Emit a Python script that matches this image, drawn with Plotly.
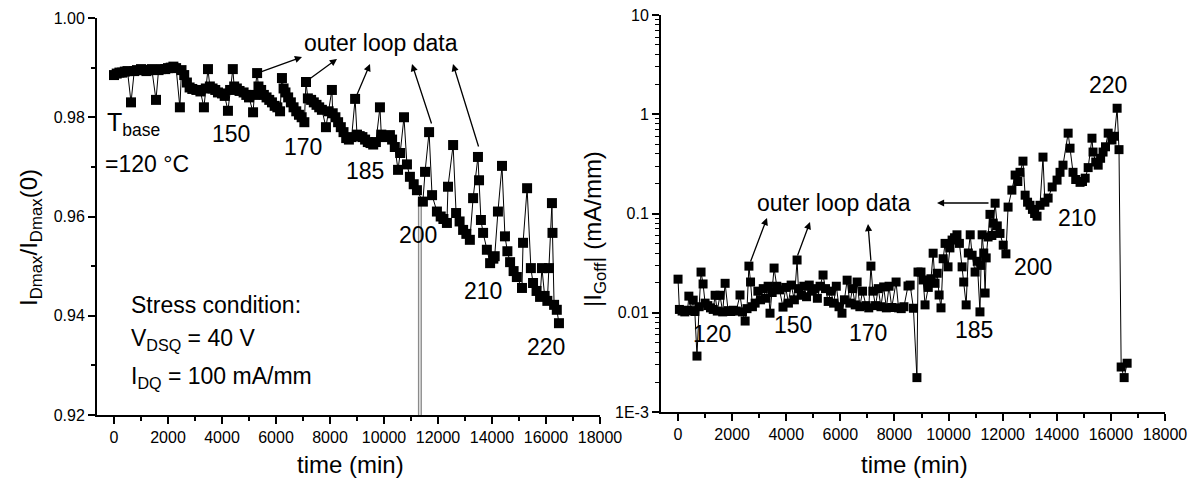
import plotly.graph_objects as go

# ---------------- data: left panel (I_Dmax / I_Dmax(0)) ----------------
left_time = [0, 100, 200, 300, 400, 500, 630, 750, 850, 1000,
             1100, 1200, 1300, 1400, 1555, 1650, 1750, 1900, 2000, 2100,
             2200, 2300, 2440, 2500, 2600, 2700, 2800, 2900, 3050, 3200,
             3330, 3400, 3480, 3550, 3650, 3750, 3850, 4000, 4100, 4220,
             4300, 4400, 4450, 4550, 4650, 4800, 4900, 5000, 5150, 5200,
             5300, 5350, 5450, 5550, 5650, 5750, 5850, 5950, 6050, 6150,
             6220, 6280, 6350, 6450, 6550, 6650, 6750, 6850, 6950, 7050,
             7110, 7180, 7300, 7400, 7500, 7600, 7700, 7850, 7950, 8070,
             8100, 8200, 8300, 8400, 8500, 8600, 8700, 8800, 8930, 9000,
             9100, 9200, 9300, 9400, 9500, 9600, 9700, 9850, 9900, 10000,
             10100, 10220, 10300, 10400, 10520, 10600, 10740, 10850, 10960, 11100,
             11220, 11440, 11520, 11670, 11780, 11960, 12100, 12200, 12330, 12370,
             12560, 12670, 12800, 12930, 13050, 13180, 13300, 13480, 13520, 13590,
             13670, 13810, 13930, 14050, 14100, 14220, 14370, 14480, 14570, 14670,
             14800, 14920, 15110, 15150, 15300, 15440, 15520, 15650, 15780, 15850,
             15950, 16050, 16110, 16220, 16240, 16300, 16400, 16480]
left_ratio = [0.9885, 0.9888, 0.9890, 0.9890, 0.9892, 0.9893, 0.9830, 0.9893, 0.9895, 0.9897,
              0.9895, 0.9893, 0.9895, 0.9897, 0.9835, 0.9895, 0.9897, 0.9897, 0.9899, 0.9900,
              0.9902, 0.9899, 0.9820, 0.9895, 0.9885, 0.9870, 0.9860, 0.9857, 0.9855, 0.9852,
              0.9820, 0.9858, 0.9897, 0.9862, 0.9858, 0.9855, 0.9850, 0.9848, 0.9843, 0.9813,
              0.9855, 0.9897, 0.9862, 0.9858, 0.9853, 0.9850, 0.9845, 0.9840, 0.9810, 0.9845,
              0.9889, 0.9862, 0.9855, 0.9845, 0.9840, 0.9835, 0.9830, 0.9823, 0.9820, 0.9812,
              0.9879, 0.9858, 0.9850, 0.9840, 0.9830, 0.9820, 0.9812, 0.9805, 0.9800, 0.9790,
              0.9871, 0.9838, 0.9835, 0.9830, 0.9825, 0.9820, 0.9815, 0.9780, 0.9812, 0.9855,
              0.9808, 0.9800, 0.9790, 0.9780, 0.9770, 0.9758, 0.9755, 0.9760, 0.9837, 0.9765,
              0.9762, 0.9760, 0.9755, 0.9750, 0.9748, 0.9745, 0.9750, 0.9820, 0.9765, 0.9760,
              0.9762, 0.9764, 0.9755, 0.9740, 0.9694, 0.9728, 0.9800, 0.9705, 0.9680, 0.9665,
              0.9653, 0.9630, 0.9690, 0.9770, 0.9643, 0.9610, 0.9600, 0.9595, 0.9587, 0.9660,
              0.9744, 0.9607, 0.9590, 0.9573, 0.9565, 0.9553, 0.9637, 0.9720, 0.9673, 0.9593,
              0.9567, 0.9533, 0.9506, 0.9515, 0.9520, 0.9610, 0.9702, 0.9560, 0.9530, 0.9508,
              0.9490, 0.9478, 0.9456, 0.9547, 0.9657, 0.9496, 0.9466, 0.9450, 0.9438, 0.9496,
              0.9440, 0.9430, 0.9496, 0.9627, 0.9567, 0.9422, 0.9412, 0.9385]

# single spike at ~11330 min dropping off the bottom of the axis
drop_time = [11330, 11330]
drop_ratio = [0.9635, 0.90]

# ---------------- data: right panel (|I_Goff|, mA/mm) ----------------
right_time = [0, 50, 150, 250, 350, 400, 480, 560, 620, 700,
              780, 850, 925, 1000, 1100, 1200, 1300, 1370, 1450, 1550,
              1650, 1740, 1850, 1950, 2050, 2150, 2290, 2380, 2480, 2550,
              2620, 2680, 2750, 2850, 2950, 3050, 3150, 3250, 3330, 3400,
              3480, 3550, 3650, 3750, 3880, 3980, 4080, 4180, 4300, 4400,
              4450, 4550, 4650, 4750, 4850, 4950, 5050, 5150, 5250, 5360,
              5450, 5550, 5650, 5750, 5850, 5950, 6060, 6150, 6250, 6350,
              6450, 6550, 6620, 6720, 6820, 6950, 7050, 7130, 7200, 7300,
              7400, 7500, 7600, 7700, 7800, 7900, 8060, 8150, 8250, 8350,
              8500, 8580, 8700, 8830, 8870, 8980, 9060, 9130, 9250, 9350,
              9430, 9500, 9580, 9650, 9720, 9800, 9870, 9980, 10050, 10130,
              10220, 10310, 10400, 10500, 10560, 10650, 10730, 10800, 10870, 10980,
              11060, 11160, 11200, 11240, 11300, 11350, 11390, 11460, 11530, 11600,
              11650, 11720, 11800, 11900, 12020, 12120, 12200, 12340, 12460, 12560,
              12640, 12750, 12830, 12920, 13010, 13100, 13180, 13270, 13380, 13490,
              13560, 13680, 13830, 14010, 14120, 14230, 14420, 14490, 14600, 14700,
              14860, 14950, 15050, 15160, 15300, 15340, 15440, 15530, 15620, 15710,
              15800, 15900, 16040, 16130, 16230, 16300, 16380, 16490, 16600]
right_igoff = [0.0218, 0.0108, 0.0104, 0.0102, 0.0106, 0.0147, 0.0105, 0.0134, 0.0103, 0.00366,
               0.0115, 0.0257, 0.0195, 0.0125, 0.0118, 0.0112, 0.0108, 0.0150, 0.0104, 0.0150,
               0.0102, 0.0198, 0.0105, 0.0103, 0.0106, 0.0104, 0.0151, 0.0102, 0.00825, 0.0110,
               0.0295, 0.0204, 0.0115, 0.0125, 0.0165, 0.0135, 0.0175, 0.0140, 0.0185, 0.0099,
               0.0160, 0.0282, 0.0185, 0.0170, 0.0114, 0.0180, 0.0125, 0.0190, 0.0135, 0.0340,
               0.0175, 0.0150, 0.0185, 0.0145, 0.0190, 0.0165, 0.0175, 0.0140, 0.0185, 0.0240,
               0.0175, 0.0130, 0.0165, 0.0125, 0.0185, 0.0115, 0.0099, 0.0135, 0.0213, 0.0125,
               0.0175, 0.0120, 0.0204, 0.0115, 0.0165, 0.0118, 0.0112, 0.0295, 0.0165, 0.0118,
               0.0175, 0.0115, 0.0182, 0.0112, 0.0185, 0.0113, 0.0204, 0.0112, 0.0110, 0.0115,
               0.0186, 0.0190, 0.0111, 0.00222, 0.0257, 0.0257, 0.0214, 0.0120, 0.0180, 0.0220,
               0.0398, 0.0198, 0.0250, 0.0151, 0.0112, 0.0350, 0.0500, 0.0290, 0.0450, 0.0540,
               0.0570, 0.0610, 0.0500, 0.0290, 0.0204, 0.0120, 0.0400, 0.0610, 0.0380, 0.0257,
               0.0330, 0.0102, 0.0300, 0.0610, 0.0400, 0.0158, 0.0357, 0.0580, 0.0980, 0.0600,
               0.0800, 0.1270, 0.0750, 0.0630, 0.0480, 0.0392, 0.1160, 0.1720, 0.2440, 0.2100,
               0.2600, 0.3370, 0.1530, 0.1300, 0.1210, 0.1100, 0.1000, 0.0940, 0.1210, 0.3700,
               0.1300, 0.1430, 0.1850, 0.2170, 0.2600, 0.3070, 0.6450, 0.4550, 0.2600, 0.2200,
               0.2060, 0.2100, 0.2270, 0.2900, 0.5740, 0.4160, 0.3300, 0.3070, 0.3600, 0.4160,
               0.4700, 0.6450, 0.5500, 0.6000, 1.1500, 0.4400, 0.00284, 0.00222, 0.00310]

left_yticks = [0.92, 0.94, 0.96, 0.98, 1.00]
left_yticktext = ["0.92", "0.94", "0.96", "0.98", "1.00"]
time_ticks = [0, 2000, 4000, 6000, 8000, 10000, 12000, 14000, 16000, 18000]
time_ticktext = ["0", "2000", "4000", "6000", "8000", "10000", "12000", "14000", "16000", "18000"]
right_yticks = [0.001, 0.01, 0.1, 1, 10]
right_yticktext = ["1E-3", "0.01", "0.1", "1", "10"]

left_temp_labels = ["150", "170", "185", "200", "210", "220"]
right_temp_labels = ["120", "150", "170", "185", "200", "210", "220"]

# ---------------- figure ----------------
W, H = 1200, 486
FONT = "Liberation Sans, Arial, Helvetica, sans-serif"


def px(x, y):
    return x / W, 1 - y / H


fig = go.Figure()

fig.add_trace(go.Scatter(x=drop_time, y=drop_ratio, mode="lines",
                         line=dict(color="#8a8a8a", width=4),
                         xaxis="x", yaxis="y", hoverinfo="skip"))
fig.add_trace(go.Scatter(x=drop_time, y=drop_ratio, mode="lines",
                         line=dict(color="white", width=1.2),
                         xaxis="x", yaxis="y", hoverinfo="skip"))
fig.add_trace(go.Scatter(x=left_time, y=left_ratio, mode="lines+markers",
                         line=dict(color="black", width=1),
                         marker=dict(symbol="square", size=10, color="black"),
                         xaxis="x", yaxis="y"))
fig.add_trace(go.Scatter(x=right_time, y=right_igoff, mode="lines+markers",
                         line=dict(color="black", width=1),
                         marker=dict(symbol="square", size=9, color="black"),
                         xaxis="x2", yaxis="y2"))

axis_common = dict(showline=True, linecolor="black", linewidth=2, showgrid=False,
                   zeroline=False, ticks="outside", tickcolor="black", tickwidth=1.5,
                   ticklen=7, tickfont=dict(family=FONT, size=16, color="black"),
                   mirror=False, automargin=False)

fig.update_layout(
    template="none",
    width=W, height=H, margin=dict(l=0, r=0, t=0, b=0, pad=0), autosize=False,
    paper_bgcolor="white", plot_bgcolor="white", showlegend=False,
    font=dict(family=FONT, color="black"),
    xaxis=dict(domain=[97 / W, 600 / W], range=[-630, 18000], anchor="y",
               tickvals=time_ticks, ticktext=time_ticktext,
               minor=dict(ticks="outside", ticklen=4, tickcolor="black", dtick=1000,
                          tick0=0, tickwidth=1.5),
               **axis_common),
    yaxis=dict(domain=[1 - 415 / H, 1 - 18 / H], range=[0.92, 1.0], anchor="x",
               tickvals=left_yticks, ticktext=left_yticktext,
               minor=dict(ticks="outside", ticklen=4, tickcolor="black", dtick=0.01,
                          tick0=0.92, tickwidth=1.5),
               **axis_common),
    xaxis2=dict(domain=[661 / W, 1165 / W], range=[-630, 18000], anchor="y2",
                tickvals=time_ticks, ticktext=time_ticktext,
                minor=dict(ticks="outside", ticklen=4, tickcolor="black", dtick=1000,
                           tick0=0, tickwidth=1.5),
                **axis_common),
    yaxis2=dict(domain=[1 - 412 / H, 1 - 15 / H], type="log", range=[-3, 1], anchor="x2",
                tickvals=right_yticks, ticktext=right_yticktext,
                minor=dict(ticks="outside", ticklen=4, tickcolor="black", dtick="D1",
                           tickwidth=1.2),
                **axis_common),
)

ann = []


def text(x, y, s, size=23, xanchor="center", angle=0):
    xp, yp = px(x, y)
    ann.append(dict(x=xp, y=yp, xref="paper", yref="paper", text=s, showarrow=False,
                    xanchor=xanchor, yanchor="middle", textangle=angle,
                    font=dict(family=FONT, size=size, color="black")))


def arrow(hx, hy, tx, ty):
    xp, yp = px(hx, hy)
    ann.append(dict(x=xp, y=yp, xref="paper", yref="paper", text="", showarrow=True,
                    ax=tx - hx, ay=ty - hy, axref="pixel", ayref="pixel",
                    arrowhead=2, arrowsize=1.1, arrowwidth=1.3, arrowcolor="black",
                    standoff=0, startstandoff=0))


# axis titles
text(350, 464, "time (min)", size=24)
text(914, 464, "time (min)", size=24)
text(30, 238, "I<sub>Dmax</sub>/I<sub>Dmax</sub>(0)", size=24, angle=-90)
text(594, 229, "|I<sub>Goff</sub>| (mA/mm)", size=24, angle=-90)

# left panel texts
text(381, 43, "outer loop data", size=23)
for (hx, hy, tx, ty) in [(302, 57, 258, 73), (337, 59, 308, 80), (370, 64, 356, 97),
                         (412, 64, 432, 125), (453, 64, 479, 148)]:
    arrow(hx, hy, tx, ty)
for lab, (cx, cy) in zip(left_temp_labels,
                         [(231, 134), (303, 147), (365, 171), (418, 235), (483, 291), (546, 347)]):
    text(cx, cy, lab, size=23)
text(105, 124, "T<sub>base</sub>", size=25, xanchor="left")
text(103, 164, "=120 \u00b0C", size=23, xanchor="left")
text(129, 305, "Stress condition:", size=23, xanchor="left")
text(129, 339, "V<sub>DSQ</sub> = 40 V", size=23, xanchor="left")
text(129, 377, "I<sub>DQ</sub> = 100 mA/mm", size=23, xanchor="left")

# right panel texts
text(834, 203, "outer loop data", size=23)
for (hx, hy, tx, ty) in [(767, 218, 750, 263), (810, 222, 797, 257), (868, 224, 871, 262),
                         (937, 203, 990, 203)]:
    arrow(hx, hy, tx, ty)
for lab, (cx, cy) in zip(right_temp_labels,
                         [(712, 334), (793, 325), (868, 333), (974, 330), (1033, 267),
                          (1077, 218), (1108, 85)]):
    text(cx, cy, lab, size=23)

fig.update_layout(annotations=ann)
fig.write_html("out.html")
